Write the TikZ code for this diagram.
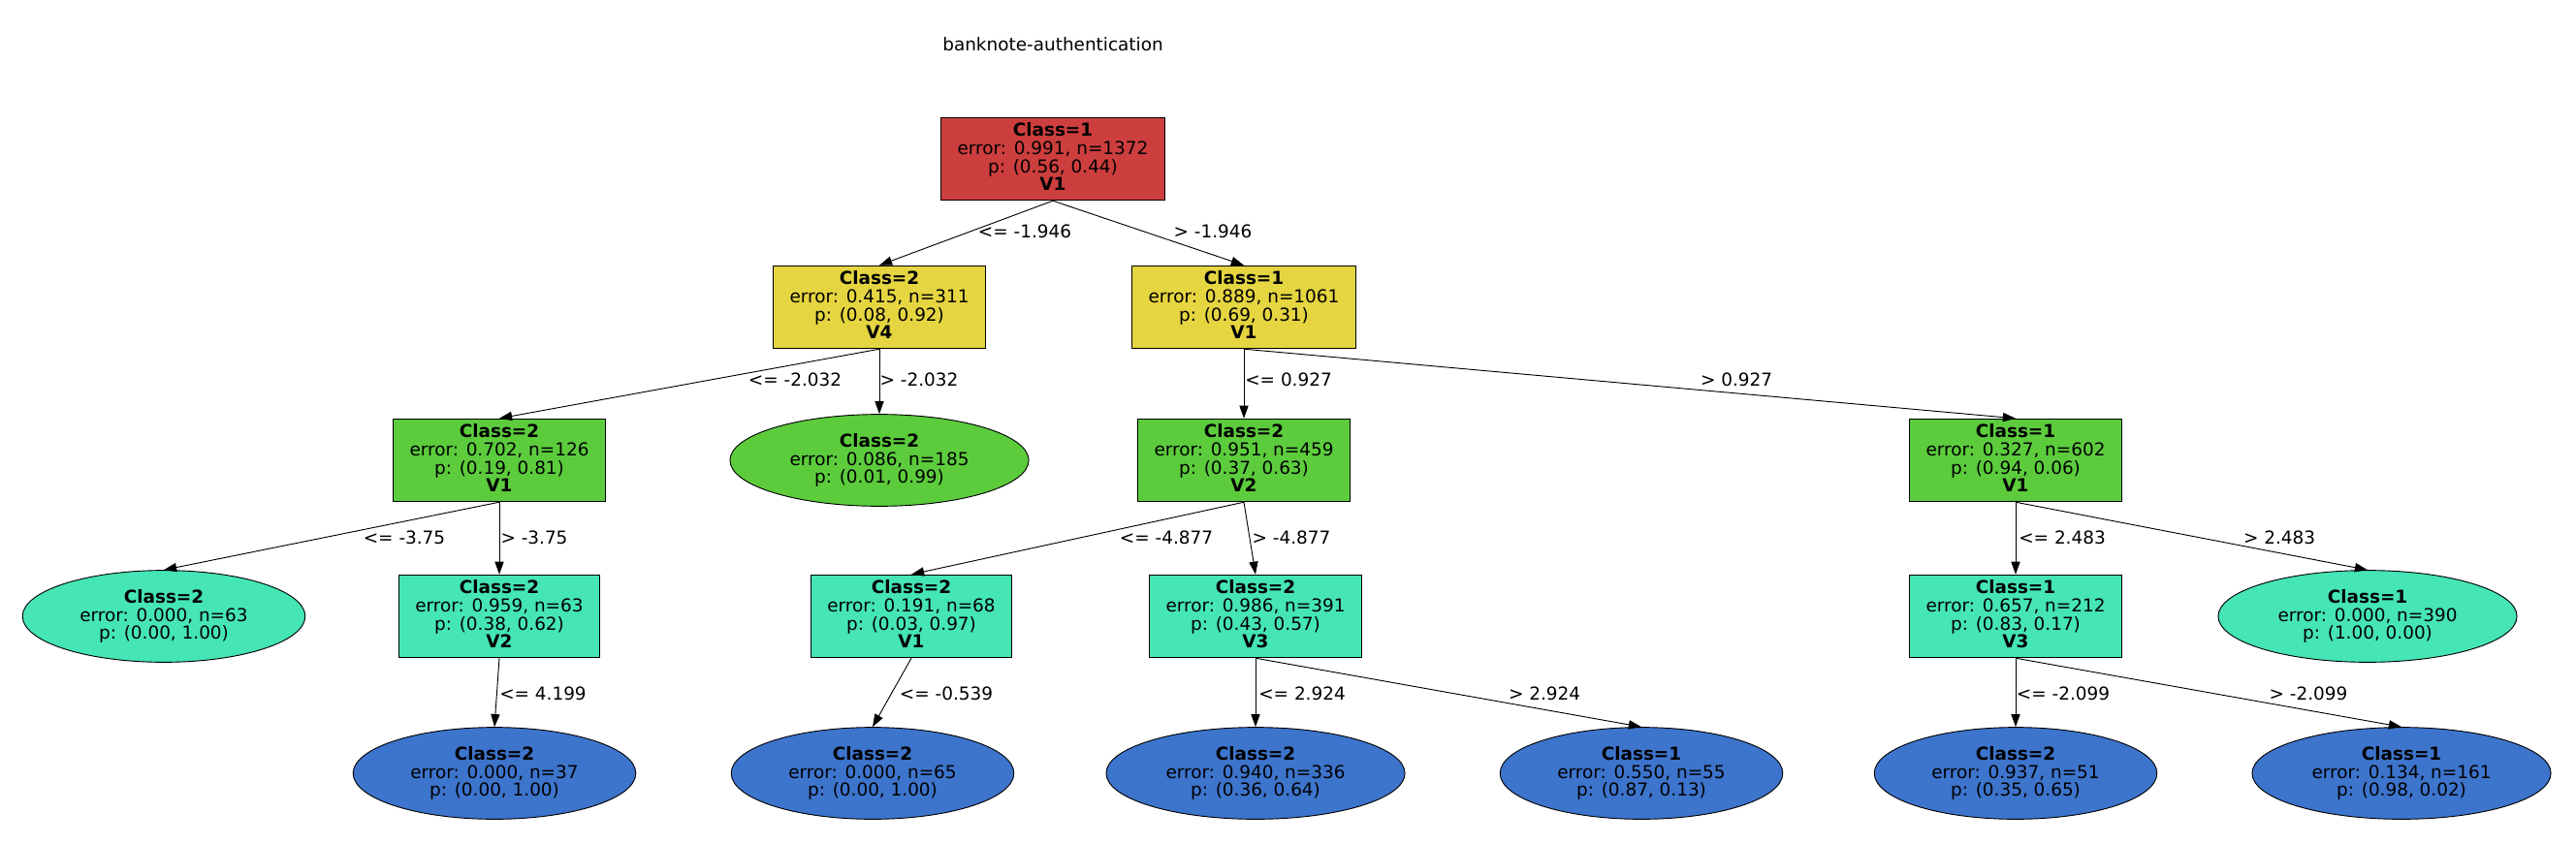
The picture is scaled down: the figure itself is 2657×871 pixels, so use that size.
\documentclass[tikz,border=0pt]{standalone}
\usepackage{fontspec}
\setmainfont{DejaVu Sans}
\usepackage{xcolor}
\usetikzlibrary{shapes.geometric, arrows.meta}
\definecolor{splitred}{RGB}{205,62,62}
\definecolor{splityellow}{RGB}{229,213,65}
\definecolor{splitgreen}{RGB}{92,204,61}
\definecolor{leafteal}{RGB}{69,229,181}
\definecolor{leafblue}{RGB}{61,116,204}

\begin{document}
\begin{tikzpicture}[x=0.76pt, y=-0.76pt,
  every node/.style={font=\fontsize{14}{14.2}\selectfont},
  split/.style={draw=black, rectangle, align=center, inner xsep=13pt, inner ysep=4pt, text depth=3.5pt, minimum height=65pt, line width=0.7pt},
  leaf/.style={draw=black, ellipse, align=center, inner xsep=12.5pt, inner ysep=4pt, minimum height=72pt, line width=0.7pt},
  lbl/.style={inner sep=0pt},
  branch/.style={-{Triangle[length=10pt, width=7pt]}, line width=0.7pt}]
\useasboundingbox (0,0) rectangle (2657,871);

\node (title) at (1086,46) {banknote-authentication};

% level 0 and 1
\node[split, fill=splitred] (n1372) at (1086,164) {\textbf{Class=1}\\error: 0.991, n=1372\\p: (0.56, 0.44)\\\textbf{V1}};
\node[split, fill=splityellow] (n311) at (907,317) {\textbf{Class=2}\\error: 0.415, n=311\\p: (0.08, 0.92)\\\textbf{V4}};
\node[split, fill=splityellow] (n1061) at (1283,317) {\textbf{Class=1}\\error: 0.889, n=1061\\p: (0.69, 0.31)\\\textbf{V1}};

% level 2
\node[split, fill=splitgreen] (n126) at (515,475) {\textbf{Class=2}\\error: 0.702, n=126\\p: (0.19, 0.81)\\\textbf{V1}};
\node[leaf, fill=splitgreen] (n185) at (907,475) {\textbf{Class=2}\\error: 0.086, n=185\\p: (0.01, 0.99)};
\node[split, fill=splitgreen] (n459) at (1283,475) {\textbf{Class=2}\\error: 0.951, n=459\\p: (0.37, 0.63)\\\textbf{V2}};
\node[split, fill=splitgreen] (n602) at (2079,475) {\textbf{Class=1}\\error: 0.327, n=602\\p: (0.94, 0.06)\\\textbf{V1}};

% level 3
\node[leaf, fill=leafteal] (n63) at (169,636) {\textbf{Class=2}\\error: 0.000, n=63\\p: (0.00, 1.00)};
\node[split, fill=leafteal] (n63s) at (515,636) {\textbf{Class=2}\\error: 0.959, n=63\\p: (0.38, 0.62)\\\textbf{V2}};
\node[split, fill=leafteal] (n68) at (940,636) {\textbf{Class=2}\\error: 0.191, n=68\\p: (0.03, 0.97)\\\textbf{V1}};
\node[split, fill=leafteal] (n391) at (1295,636) {\textbf{Class=2}\\error: 0.986, n=391\\p: (0.43, 0.57)\\\textbf{V3}};
\node[split, fill=leafteal] (n212) at (2079,636) {\textbf{Class=1}\\error: 0.657, n=212\\p: (0.83, 0.17)\\\textbf{V3}};
\node[leaf, fill=leafteal] (n390) at (2442,636) {\textbf{Class=1}\\error: 0.000, n=390\\p: (1.00, 0.00)};

% level 4
\node[leaf, fill=leafblue] (n37) at (510,798) {\textbf{Class=2}\\error: 0.000, n=37\\p: (0.00, 1.00)};
\node[leaf, fill=leafblue] (n65) at (900,798) {\textbf{Class=2}\\error: 0.000, n=65\\p: (0.00, 1.00)};
\node[leaf, fill=leafblue] (n336) at (1295,798) {\textbf{Class=2}\\error: 0.940, n=336\\p: (0.36, 0.64)};
\node[leaf, fill=leafblue] (n55) at (1693,798) {\textbf{Class=1}\\error: 0.550, n=55\\p: (0.87, 0.13)};
\node[leaf, fill=leafblue] (n51) at (2079,798) {\textbf{Class=2}\\error: 0.937, n=51\\p: (0.35, 0.65)};
\node[leaf, fill=leafblue] (n161) at (2477,798) {\textbf{Class=1}\\error: 0.134, n=161\\p: (0.98, 0.02)};

% branches
\draw[branch] (n1372.south) -- (n311.north);
\draw[branch] (n1372.south) -- (n1061.north);
\draw[branch] (n311.south) -- (n126.north);
\draw[branch] (n311.south) -- (n185.north);
\draw[branch] (n1061.south) -- (n459.north);
\draw[branch] (n1061.south) -- (n602.north);
\draw[branch] (n126.south) -- (n63.north);
\draw[branch] (n126.south) -- (n63s.north);
\draw[branch] (n63s.south) -- (n37.north);
\draw[branch] (n459.south) -- (n68.north);
\draw[branch] (n459.south) -- (n391.north);
\draw[branch] (n68.south) -- (n65.north);
\draw[branch] (n391.south) -- (n336.north);
\draw[branch] (n391.south) -- (n55.north);
\draw[branch] (n602.south) -- (n212.north);
\draw[branch] (n602.south) -- (n390.north);
\draw[branch] (n212.south) -- (n51.north);
\draw[branch] (n212.south) -- (n161.north);

% branch labels
\node[lbl] (t1) at (1057,239) {<= -1.946};
\node[lbl] (t2) at (1251,239) {> -1.946};
\node[lbl] (t3) at (820,392) {<= -2.032};
\node[lbl] (t4) at (948,392) {> -2.032};
\node[lbl] (t5) at (1329,392) {<= 0.927};
\node[lbl] (t6) at (1791,392) {> 0.927};
\node[lbl] (t7) at (417,555) {<= -3.75};
\node[lbl] (t8) at (551,555) {> -3.75};
\node[lbl] (t9) at (560,716) {<= 4.199};
\node[lbl] (t10) at (1203,555) {<= -4.877};
\node[lbl] (t11) at (1332,555) {> -4.877};
\node[lbl] (t12) at (976,716) {<= -0.539};
\node[lbl] (t13) at (1343,716) {<= 2.924};
\node[lbl] (t14) at (1593,716) {> 2.924};
\node[lbl] (t15) at (2127,555) {<= 2.483};
\node[lbl] (t16) at (2351,555) {> 2.483};
\node[lbl] (t17) at (2128,716) {<= -2.099};
\node[lbl] (t18) at (2381,716) {> -2.099};
\end{tikzpicture}
\end{document}
